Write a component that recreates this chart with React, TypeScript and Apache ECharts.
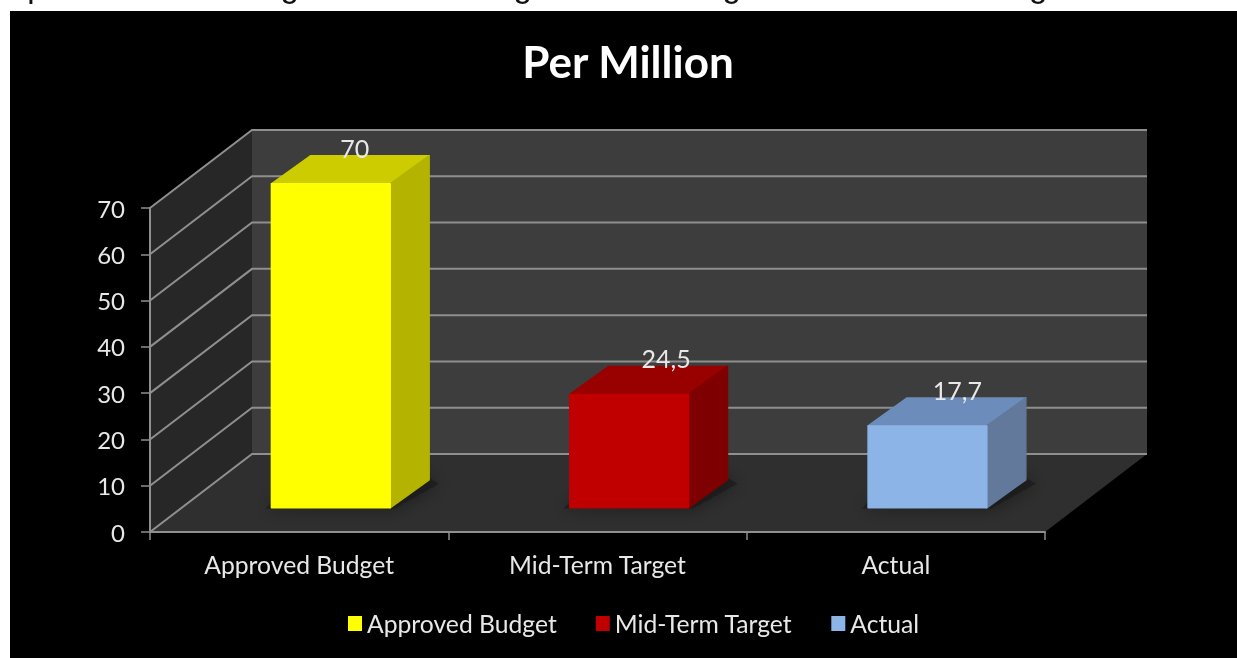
import React, { useEffect, useRef } from "react";
import * as echarts from "echarts";

const categories = ["Approved Budget", "Mid-Term Target", "Actual"];
const budgetValue = 70;
const targetValue = 24.5;
const actualValue = 17.7;
const valueTicks = [0, 10, 20, 30, 40, 50, 60, 70];
const captionText = "represents Actual against Main budget and MOI against the revised target";
const titleText = "Per Million";

// Oblique projection of the plot box
const DEPTH_X = 102;
const DEPTH_Y = -78;
// Where a bar's front face sits inside the box, and how deep it is
const BAR_FRONT = 0.31;
const BAR_DEPTH_X = 39;
const BAR_DEPTH_Y = -28;
const BAR_WIDTH_RATIO = 0.398;

const GRID_LINE = "#8f8f8f";
const LABEL_COLOR = "#e8e8e8";
const FONT = "Lato, 'Noto Sans', sans-serif";

const decimal = (v: number) => String(v).replace(".", ",");

function wallsRenderer(params: any, api: any) {
  const cs = params.coordSys;
  const l = cs.x;
  const r = cs.x + cs.width;
  const t = cs.y;
  const b = cs.y + cs.height;
  const poly = (points: number[][], fill: string) => ({
    type: "polygon",
    shape: { points },
    style: { fill },
    silent: true,
  });
  return {
    type: "group",
    children: [
      poly(
        [[l + DEPTH_X, t + DEPTH_Y], [r + DEPTH_X, t + DEPTH_Y], [r + DEPTH_X, b + DEPTH_Y], [l + DEPTH_X, b + DEPTH_Y]],
        "#3d3d3d"
      ),
      poly([[l, t], [l + DEPTH_X, t + DEPTH_Y], [l + DEPTH_X, b + DEPTH_Y], [l, b]], "#272727"),
      poly([[l, b], [l + DEPTH_X, b + DEPTH_Y], [r + DEPTH_X, b + DEPTH_Y], [r, b]], "#2f2f2f"),
    ],
  };
}

function gridLineRenderer(params: any, api: any) {
  const cs = params.coordSys;
  const y = api.coord([0, api.value(0)])[1];
  const l = cs.x;
  const r = cs.x + cs.width;
  return {
    type: "polyline",
    shape: {
      points: [[l, y], [l + DEPTH_X, y + DEPTH_Y], [r + DEPTH_X, y + DEPTH_Y]],
    },
    style: { stroke: GRID_LINE, lineWidth: 2, fill: "none" },
    silent: true,
  };
}

function barRenderer(front: string, top: string, side: string, labelShift: number) {
  return (params: any, api: any) => {
    const value = api.value(1);
    const zero = api.coord([api.value(0), 0]);
    const head = api.coord([api.value(0), value]);
    const band = api.size([1, 0])[0];
    const w = band * BAR_WIDTH_RATIO;
    const shiftX = DEPTH_X * BAR_FRONT;
    const shiftY = DEPTH_Y * BAR_FRONT;
    const x0 = zero[0] + shiftX - w / 2;
    const x1 = x0 + w;
    const yBase = zero[1] + shiftY;
    const yTop = head[1] + shiftY;
    const dx = BAR_DEPTH_X;
    const dy = BAR_DEPTH_Y;
    const face = (points: number[][], fill: string) => ({
      type: "polygon",
      shape: { points },
      style: { fill, stroke: fill, lineWidth: 1.5, lineJoin: "round" },
      silent: true,
    });
    return {
      type: "group",
      children: [
        {
          // soft contact shadow on the floor
          type: "polygon",
          shape: {
            points: [[x0 - 6, yBase + 1], [x1 + 4, yBase + 1], [x1 + dx + 10, yBase + dy + 4], [x1 + dx, yBase + dy - 2], [x0, yBase - 6]],
          },
          style: { fill: "rgba(22,22,22,0.55)", shadowBlur: 18, shadowColor: "rgba(0,0,0,0.75)" },
          silent: true,
        },
        face([[x0, yTop], [x0 + dx, yTop + dy], [x1 + dx, yTop + dy], [x1, yTop]], top),
        face([[x1, yTop], [x1 + dx, yTop + dy], [x1 + dx, yBase + dy], [x1, yBase]], side),
        face([[x0, yTop], [x1, yTop], [x1, yBase], [x0, yBase]], front),
        {
          type: "text",
          silent: true,
          style: {
            text: decimal(value),
            x: (x0 + x1) / 2 + labelShift,
            y: yTop + dy - 8,
            align: "center",
            verticalAlign: "middle",
            font: `25px ${FONT}`,
            fill: LABEL_COLOR,
          },
        },
      ],
    };
  };
}

export default function App() {
  const ref = useRef<HTMLDivElement>(null);

  useEffect(() => {
    const chart = echarts.init(ref.current!, null, { renderer: "svg" });
    const bar = (name: string, index: number, value: number, colors: string[], labelShift: number) => ({
      type: "custom",
      name,
      z: 4,
      itemStyle: { color: colors[0] },
      encode: { x: 0, y: 1 },
      data: [[index, value]],
      renderItem: barRenderer(colors[0], colors[1], colors[2], labelShift),
    });
    chart.setOption({
      animation: false,
      backgroundColor: "transparent",
      graphic: {
        elements: [
          { type: "rect", z: -10, shape: { x: 10, y: 11, width: 1227, height: 647 }, style: { fill: "#000" }, silent: true },
          {
            type: "text",
            z: -9,
            silent: true,
            style: {
              text: captionText,
              x: -2,
              y: -31,
              font: "33px 'Liberation Sans', Arial, sans-serif",
              fill: "#111",
            },
          },
        ],
      },
      title: {
        text: titleText,
        left: 623,
        top: 34,
        textAlign: "center",
        textStyle: { color: "#fff", fontFamily: FONT, fontWeight: "bold", fontSize: 44 },
      },
      legend: {
        left: 343,
        top: 606,
        icon: "rect",
        itemWidth: 14,
        itemHeight: 15,
        itemGap: 39,
        selectedMode: false,
        data: categories,
        textStyle: { color: LABEL_COLOR, fontFamily: FONT, fontSize: 24.7 },
      },
      grid: { left: 150, right: 192, top: 208, bottom: 126 },
      xAxis: {
        type: "category",
        data: categories,
        z: 6,
        axisLine: { lineStyle: { color: "#8f8f8f", width: 2 } },
        axisTick: { show: true, length: 8, lineStyle: { color: "#8f8f8f", width: 1.5 } },
        axisLabel: { color: LABEL_COLOR, fontFamily: FONT, fontSize: 24.7, margin: 20 },
      },
      yAxis: {
        type: "value",
        min: 0,
        max: 70,
        interval: 10,
        z: 6,
        splitLine: { show: false },
        axisLine: { show: true, lineStyle: { color: "#8f8f8f", width: 2 } },
        axisTick: { show: true, length: 9, lineStyle: { color: "#8f8f8f", width: 1.5 } },
        axisLabel: { color: LABEL_COLOR, fontFamily: FONT, fontSize: 24, margin: 25 },
      },
      series: [
        { type: "custom", z: 1, silent: true, data: [[0]], encode: { y: 0 }, renderItem: wallsRenderer },
        {
          type: "custom",
          z: 2,
          silent: true,
          data: valueTicks.map((v) => [v]),
          encode: { y: 0 },
          renderItem: gridLineRenderer,
        },
        bar(categories[0], 0, budgetValue, ["#ffff00", "#cccc00", "#b3b300"], 24),
        bar(categories[1], 1, targetValue, ["#c00000", "#990000", "#7e0000"], 37),
        bar(categories[2], 2, actualValue, ["#8db4e6", "#6c8dbb", "#62799c"], 30),
      ],
    });
    return () => chart.dispose();
  }, []);

  return <div ref={ref} style={{ position: "fixed", left: 0, top: 0, width: 1237, height: 658 }} />;
}
